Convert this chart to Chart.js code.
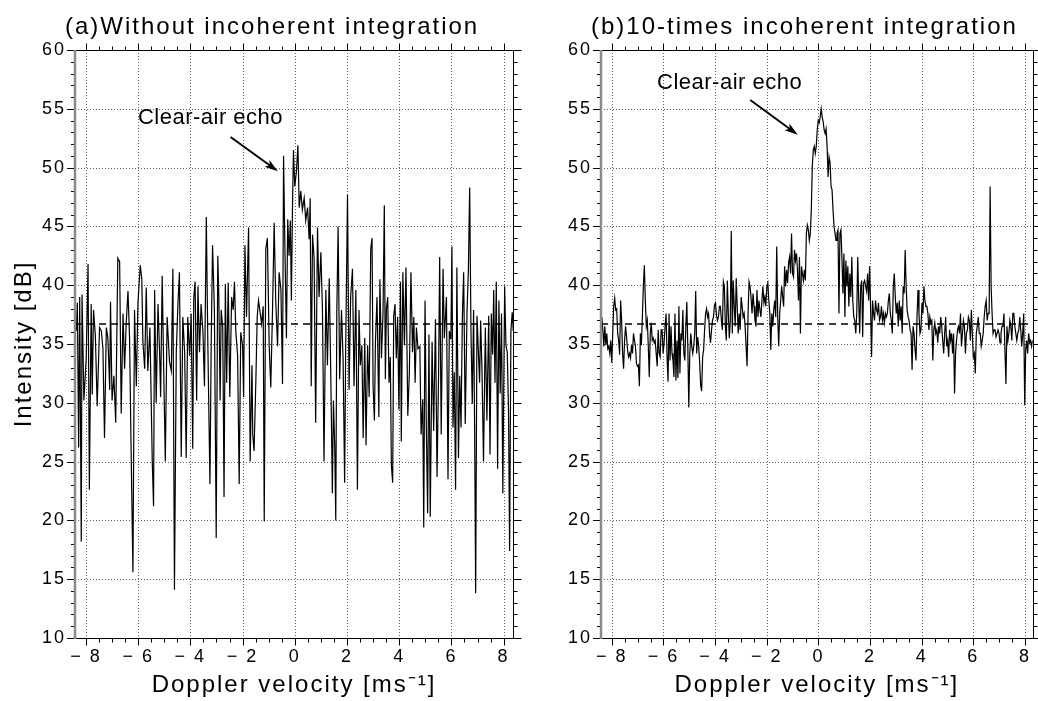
<!DOCTYPE html>
<html>
<head>
<meta charset="utf-8">
<script src="https://cdn.jsdelivr.net/npm/chart.js@4.4.0/dist/chart.umd.min.js"></script>
<style>
  body { margin: 0; background: #fff; }
  #wrap { position: relative; width: 1038px; height: 701px; overflow: hidden; }
  canvas { position: absolute; top: 0; }
  #chartA { left: 0; }
  #chartB { left: 520px; }
</style>
</head>
<body>
<div id="wrap">
  <canvas id="chartA" width="540" height="701"></canvas>
  <canvas id="chartB" width="518" height="701"></canvas>
</div>
<script>
// (a) single spectrum: Doppler velocity [m/s] and intensity [dB]
const velA = [
  -8.43,-8.37,-8.33,-8.28,-8.24,-8.18,-8.15,-8.08,-7.99,-7.92,-7.87,-7.80,-7.76,-7.71,-7.64,-7.57,-7.48,-7.41,-7.35,-7.29,
  -7.22,-7.16,-7.09,-7.06,-7.00,-6.93,-6.86,-6.78,-6.71,-6.65,-6.58,-6.52,-6.46,-6.39,-6.33,-6.27,-6.20,-6.14,-6.07,-6.01,
  -5.92,-5.86,-5.82,-5.75,-5.69,-5.63,-5.55,-5.46,-5.41,-5.37,-5.31,-5.24,-5.18,-5.14,-5.08,-5.02,-4.96,-4.89,-4.80,-4.73,
  -4.67,-4.61,-4.54,-4.48,-4.42,-4.35,-4.29,-4.22,-4.16,-4.10,-4.03,-3.97,-3.91,-3.87,-3.82,-3.76,-3.71,-3.65,-3.59,-3.52,
  -3.46,-3.39,-3.33,-3.25,-3.20,-3.15,-3.08,-3.01,-2.95,-2.91,-2.86,-2.82,-2.76,-2.71,
  -2.66,-2.61,-2.55,-2.49,-2.42,-2.36,-2.31,-2.26,-2.19,-2.13,-2.07,-2.00,-1.96,-1.91,-1.85,-1.77,-1.71,-1.64,-1.61,-1.56,
  -1.49,-1.44,-1.39,-1.34,-1.27,-1.21,-1.17,-1.11,-1.05,-0.98,-0.92,-0.85,-0.79,-0.73,-0.66,-0.60,-0.53,-0.47,-0.43,-0.38,
  -0.32,-0.27,-0.22,-0.17,-0.13,-0.09,-0.05,0.00,0.06,0.12,0.17,0.23,0.29,0.36,0.42,0.49,0.55,0.59,0.63,0.68,
  0.74,0.80,0.87,0.93,1.00,1.06,1.12,1.19,1.25,1.32,1.38,1.44,1.48,1.53,1.57,1.61,1.66,1.72,1.79,1.85,
  1.91,1.95,2.02,2.08,2.14,2.21,2.27,2.34,2.40,2.46,2.51,2.57,2.62,2.68,2.73,2.79,2.85,2.91,2.96,
  3.00,3.05,3.09,3.15,3.22,3.26,3.32,3.38,3.43,3.47,3.51,3.56,3.61,3.66,3.70,3.75,3.79,3.84,3.89,3.94,
  3.99,4.05,4.08,4.14,4.20,4.26,4.33,4.39,4.45,4.51,4.56,4.61,4.66,4.72,4.79,4.84,4.90,4.94,4.99,5.04,
  5.09,5.14,5.19,5.26,5.32,5.39,5.45,5.51,5.55,5.61,5.68,5.73,5.81,5.87,5.92,5.98,6.02,6.06,6.11,6.16,
  6.21,6.27,6.32,6.37,6.42,6.47,6.53,6.60,6.65,6.70,6.75,6.80,6.85,6.89,6.93,6.98,7.03,7.08,7.12,7.17,
  7.23,7.30,7.36,7.43,7.48,7.53,7.58,7.62,7.67,7.72,7.77,7.82,7.87,7.92,7.97,8.04,8.09,8.14,8.19,8.23,
  8.28,8.33,8.37
];
const dbA = [
  37.5,36.1,38.5,26.2,39.0,18.2,39.2,30.2,33.8,41.8,22.6,38.4,30.7,37.9,35.7,29.7,36.4,36.1,34.6,27.0,
  36.4,35.5,31.1,38.6,30.2,32.3,28.3,42.3,42.0,29.1,37.6,32.9,36.7,39.5,35.5,25.9,15.6,37.9,31.4,38.4,
  41.7,40.5,35.2,32.9,39.8,32.7,36.4,25.0,21.2,39.6,30.0,38.4,34.3,30.5,40.8,32.6,25.0,37.3,33.5,32.7,
  41.4,14.1,34.3,38.2,41.1,25.4,37.3,34.3,25.3,37.3,34.0,37.6,26.1,38.9,40.3,30.2,39.9,34.3,38.4,36.1,
  31.4,45.8,34.9,23.1,35.5,43.4,37.9,18.5,42.5,39.0,30.2,37.9,36.4,22.0,
  40.1,31.7,40.2,30.5,39.0,37.9,40.3,36.1,34.0,23.1,36.0,34.9,30.5,43.4,37.3,44.9,25.0,33.2,27.3,25.9,
  32.0,37.3,38.7,37.9,36.7,38.2,19.9,43.1,44.0,34.8,31.3,38.2,45.3,38.7,34.8,41.1,39.6,31.6,51.0,43.4,
  35.5,45.6,42.5,45.5,38.7,46.4,51.5,48.4,49.6,51.9,46.6,48.0,46.4,47.4,45.5,46.6,43.9,47.4,31.4,44.3,
  42.3,28.3,44.9,39.0,42.8,37.9,25.0,39.6,33.2,40.6,32.3,22.3,30.2,26.4,20.0,37.7,45.0,32.0,37.9,33.8,
  23.2,34.6,47.7,31.1,39.0,41.4,31.4,39.6,22.6,37.9,33.2,34.9,27.0,35.5,26.4,34.9,30.5,43.1,44.0,
  31.4,28.5,35.2,39.0,28.8,40.5,33.8,37.6,46.8,32.0,38.0,39.0,31.7,33.9,24.7,23.2,37.4,38.4,33.8,37.3,
  29.4,40.3,26.7,41.1,34.9,41.5,28.9,32.6,41.1,34.3,37.3,31.7,36.4,34.6,34.8,27.3,30.3,19.4,38.7,27.9,
  20.6,35.8,20.3,35.2,27.6,37.1,23.7,32.6,42.4,27.3,41.4,35.5,39.0,23.5,36.1,35.4,43.3,27.9,32.6,22.6,
  41.5,25.3,32.3,27.9,37.3,41.1,28.2,37.9,41.2,48.3,36.1,29.9,37.9,27.9,13.8,37.4,34.6,31.7,37.0,33.0,
  25.0,36.4,28.5,37.4,25.6,37.6,34.1,39.6,31.7,40.3,24.4,38.7,30.8,37.6,22.3,39.9,34.9,34.3,29.1,17.4,
  36.1,37.7,36.1
];

// (b) 10-times integrated spectrum: equally spaced Doppler bins
const binStartB = -8.425;
const binStepB = 0.03826;
const dbB = [
  34.1,37.3,36.2,34.8,36.5,34.9,35.9,34.6,34.8,34.2,35.3,33.4,35.9,38.2,38.9,37.9,38.0,35.9,35.3,34.1,
  38.7,37.0,34.2,32.9,35.3,36.5,35.6,34.5,33.9,34.2,33.8,34.9,34.2,35.9,35.3,34.8,33.4,33.1,33.2,31.4,
  35.9,34.9,37.3,39.9,41.7,38.7,36.5,37.0,34.8,32.2,35.9,36.8,35.3,35.5,35.1,35.3,34.2,33.1,36.2,34.2,
  33.9,36.2,36.2,34.2,35.1,36.5,37.6,33.9,31.8,37.6,33.6,36.5,34.2,33.6,32.2,37.6,31.9,35.3,32.1,38.2,
  32.5,35.9,35.3,37.9,34.2,33.6,36.5,38.6,34.8,29.6,34.2,35.9,34.8,34.2,34.8,35.9,39.5,34.2,35.6,34.8,
  33.4,31.5,31.0,33.9,34.5,36.2,37.6,38.0,37.3,37.6,35.9,35.1,36.2,37.0,37.3,38.3,38.5,37.5,37.0,37.3,
  38.2,38.2,37.0,36.2,40.3,39.9,36.5,35.3,40.4,37.6,35.5,37.0,44.6,35.9,40.4,38.2,36.5,40.6,38.2,35.9,
  37.6,36.2,39.0,38.2,37.3,37.6,36.5,34.8,33.1,37.6,40.3,39.9,39.0,37.6,39.3,38.2,37.0,36.5,39.6,37.3,
  38.7,37.9,37.3,38.7,39.9,38.5,39.0,38.2,39.9,40.2,38.7,37.6,34.5,37.6,36.5,37.9,38.7,37.3,43.3,37.3,
  34.8,37.6,38.7,39.9,39.0,38.2,41.6,39.9,41.3,40.2,41.9,42.4,41.0,44.4,41.0,40.7,43.0,42.1,42.7,41.3,
  38.7,42.4,35.9,41.6,41.0,40.4,41.3,40.4,44.4,45.1,
  44.7,43.8,44.4,46.4,50.1,51.5,51.8,51.2,51.8,53.2,54.0,53.8,54.3,55.0,54.3,53.9,53.2,52.9,53.3,51.8,
  49.2,50.9,50.4,48.4,48.1,46.4,45.0,44.4,43.8,44.4,44.7,37.6,44.4,44.7,42.4,39.3,42.7,37.3,42.1,39.9,
  41.6,38.2,41.0,39.0,42.4,38.7,37.3,37.0,35.9,37.6,42.4,38.7,35.9,39.9,40.4,35.6,40.2,40.4,39.9,39.5,
  41.0,38.7,41.6,38.2,33.9,38.7,37.6,37.0,38.7,37.9,37.6,38.5,37.0,37.3,38.2,37.0,37.6,36.8,37.6,37.3,
  37.6,38.7,39.3,37.6,37.0,35.9,39.9,41.0,39.0,37.6,38.5,36.5,38.7,37.0,38.2,35.9,39.9,39.3,43.0,39.9,
  37.9,37.3,37.0,36.2,35.9,32.8,36.5,35.9,34.5,33.6,37.3,39.6,37.6,35.9,36.2,38.5,37.6,39.9,38.7,38.2,
  38.2,37.6,36.2,37.3,36.8,37.0,33.6,36.2,36.8,35.9,36.2,35.1,36.5,35.9,37.3,36.5,35.3,34.2,35.9,37.3,
  34.8,35.3,33.9,36.2,35.3,35.9,34.2,35.9,30.8,34.2,35.3,36.2,36.5,35.9,37.6,34.8,35.9,37.0,36.5,34.2,
  35.9,36.2,37.3,37.0,35.3,37.9,35.9,33.9,34.2,32.5,35.9,36.5,37.3,35.9,35.9,34.8,35.3,35.9,37.3,38.2,
  38.7,37.0,37.6,37.6,48.4,39.9,37.6,35.9,36.2,36.2,35.6,35.9,36.2,35.9,35.1,35.9,36.5,36.5,37.6,34.5,
  31.6,36.5,35.3,35.9,37.0,36.5,35.3,37.6,37.6,36.5,35.9,35.3,35.9,36.2,37.3,36.2,34.8,35.9,37.6,29.8,
  34.5,35.3,34.2,35.9,35.1,35.3,34.8,35.3
];

// dashed reference (noise) level [dB] and its extent [m/s]
const noiseLevel = 36.7;
const noiseSpan = [-8.42, 8.12];

const xTicks = [-8, -6, -4, -2, 0, 2, 4, 6, 8];
const yTicks = [10, 15, 20, 25, 30, 35, 40, 45, 50, 55, 60];

const titleA = '(a)Without incoherent integration';
const titleB = '(b)10-times incoherent integration';
const noteText = 'Clear-air echo';
// label centre, arrow start, arrow tip in data units [m/s, dB]
const noteA = { at: [-3.23, 54.2], from: [-2.46, 52.6], to: [-0.65, 49.7] };
const noteB = { at: [-3.44, 57.2], from: [-2.64, 55.75], to: [-0.80, 52.8] };

const sans = "'Liberation Sans', Arial, sans-serif";
Chart.defaults.font.family = sans;
Chart.defaults.color = '#000';

const xMinor = 0.5, yMinor = 1;

const framePlugin = {
  id: 'frame',
  beforeDraw(chart) {
    chart.ctx.letterSpacing = '2px';
  },
  beforeDatasetsDraw(chart) {
    const { ctx, chartArea: a } = chart;
    const x = chart.scales.x, y = chart.scales.y;
    ctx.save();
    ctx.strokeStyle = '#606060';
    ctx.lineWidth = 1;
    ctx.setLineDash([1, 2]);
    ctx.beginPath();
    xTicks.forEach(v => {
      const p = Math.round(x.getPixelForValue(v)) + 0.5;
      ctx.moveTo(p, a.top); ctx.lineTo(p, a.bottom);
    });
    yTicks.forEach(v => {
      if (v <= y.min || v >= y.max) return;
      const p = Math.round(y.getPixelForValue(v)) + 0.5;
      ctx.moveTo(a.left, p); ctx.lineTo(a.right, p);
    });
    ctx.stroke();
    ctx.restore();
  },
  afterDatasetsDraw(chart, args, opts) {
    const { ctx, chartArea: a } = chart;
    const x = chart.scales.x, y = chart.scales.y;
    const L = Math.round(a.left), R = Math.round(a.right);
    const T = Math.round(a.top), B = Math.round(a.bottom);
    ctx.save();
    ctx.setLineDash([]);
    ctx.strokeStyle = '#000';
    ctx.lineWidth = 1;
    ctx.beginPath();
    // frame (top, right, bottom)
    ctx.moveTo(L, T + 0.5); ctx.lineTo(R + 0.5, T + 0.5); ctx.lineTo(R + 0.5, B + 0.5); ctx.lineTo(L, B + 0.5);
    // x ticks, bottom and top, pointing out
    for (let k = Math.ceil(x.min / xMinor); k * xMinor <= x.max; k++) {
      const v = k * xMinor;
      const len = xTicks.includes(v) ? 7 : 4;
      const p = Math.round(x.getPixelForValue(v)) + 0.5;
      ctx.moveTo(p, B + 0.5); ctx.lineTo(p, B + 0.5 + len);
      ctx.moveTo(p, T + 0.5); ctx.lineTo(p, T + 0.5 - len);
    }
    // y ticks, left and right, pointing out
    for (let k = Math.ceil(y.min / yMinor); k * yMinor <= y.max; k++) {
      const v = k * yMinor;
      const len = yTicks.includes(v) ? 8 : 4;
      const p = Math.round(y.getPixelForValue(v)) + 0.5;
      ctx.moveTo(L, p); ctx.lineTo(L - len, p);
      ctx.moveTo(R + 0.5, p); ctx.lineTo(R + 0.5 + len, p);
    }
    ctx.stroke();
    // left axis line is grey and heavier
    ctx.strokeStyle = '#8a8a8a';
    ctx.lineWidth = 2.5;
    ctx.beginPath();
    ctx.moveTo(L, T); ctx.lineTo(L, B + 1);
    ctx.stroke();

    // panel title
    ctx.fillStyle = '#000';
    ctx.strokeStyle = '#000';
    ctx.letterSpacing = '2px';
    ctx.font = '24px ' + sans;
    ctx.textAlign = 'left';
    ctx.textBaseline = 'alphabetic';
    ctx.fillText(opts.title, L - 10, 34);

    // annotation with arrow
    const n = opts.note;
    ctx.letterSpacing = '0.5px';
    ctx.font = '22px ' + sans;
    ctx.textAlign = 'center';
    ctx.textBaseline = 'middle';
    ctx.fillText(noteText, x.getPixelForValue(n.at[0]), y.getPixelForValue(n.at[1]));
    const fx = x.getPixelForValue(n.from[0]), fy = y.getPixelForValue(n.from[1]);
    const tx = x.getPixelForValue(n.to[0]), ty = y.getPixelForValue(n.to[1]);
    const ang = Math.atan2(ty - fy, tx - fx);
    ctx.lineWidth = 2;
    ctx.beginPath();
    ctx.moveTo(fx, fy);
    ctx.lineTo(tx - 8 * Math.cos(ang), ty - 8 * Math.sin(ang));
    ctx.stroke();
    ctx.beginPath();
    ctx.moveTo(tx, ty);
    ctx.lineTo(tx - 14 * Math.cos(ang - 0.3), ty - 14 * Math.sin(ang - 0.3));
    ctx.lineTo(tx - 10 * Math.cos(ang), ty - 10 * Math.sin(ang));
    ctx.lineTo(tx - 14 * Math.cos(ang + 0.3), ty - 14 * Math.sin(ang + 0.3));
    ctx.closePath();
    ctx.fill();
    ctx.restore();
  }
};

function makeChart(id, points, cfg) {
  const ctx = document.getElementById(id);
  return new Chart(ctx, {
    type: 'line',
    data: {
      datasets: [
        {
          label: 'noise level',
          data: noiseSpan.map(v => ({ x: v, y: noiseLevel })),
          borderColor: '#000',
          borderWidth: 1.6,
          borderDash: [7, 5],
          pointRadius: 0,
          fill: false
        },
        {
          label: 'spectrum',
          data: points,
          borderColor: '#000',
          borderWidth: 1.2,
          pointRadius: 0,
          tension: 0,
          fill: false
        }
      ]
    },
    options: {
      responsive: false,
      animation: false,
      events: [],
      layout: { padding: { left: 0, right: cfg.padRight, top: 50, bottom: 0 } },
      plugins: {
        legend: { display: false },
        tooltip: { enabled: false },
        frame: { title: cfg.title, note: cfg.note }
      },
      scales: {
        x: {
          type: 'linear',
          min: -8.42,
          max: cfg.xMax,
          afterBuildTicks: s => { s.ticks = xTicks.map(v => ({ value: v })); },
          afterFit: s => { s.height = 63; },
          grid: { display: false, drawTicks: false },
          border: { display: false },
          ticks: {
            autoSkip: false,
            maxRotation: 0,
            padding: 8,
            color: '#000',
            font: { size: 18 },
            callback: v => v < 0 ? '\u2212 ' + Math.abs(v) : String(v)
          },
          title: {
            display: true,
            text: 'Doppler velocity [ms\u207B\u00B9]',
            color: '#000',
            font: { size: 24 },
            padding: { top: 0, bottom: 1 }
          }
        },
        y: {
          type: 'linear',
          min: 10,
          max: 60,
          afterBuildTicks: s => { s.ticks = yTicks.map(v => ({ value: v })); },
          afterFit: s => { s.width = cfg.yWidth; },
          grid: { display: false, drawTicks: false },
          border: { display: false },
          ticks: { padding: 9, color: '#000', font: { size: 18 } },
          title: {
            display: cfg.yTitle,
            text: 'Intensity [dB]',
            color: '#000',
            font: { size: 24 },
            padding: { top: 10, bottom: 0 }
          }
        }
      }
    },
    plugins: [framePlugin]
  });
}

const pointsA = velA.map((v, i) => ({ x: v, y: dbA[i] }));
const pointsB = dbB.map((d, i) => ({ x: binStartB + i * binStepB, y: d }));

makeChart('chartA', pointsA, { title: titleA, note: noteA, xMax: 8.36, padRight: 27, yWidth: 75, yTitle: true });
makeChart('chartB', pointsB, { title: titleB, note: noteB, xMax: 8.30, padRight: 0, yWidth: 81, yTitle: false });
</script>
</body>
</html>
